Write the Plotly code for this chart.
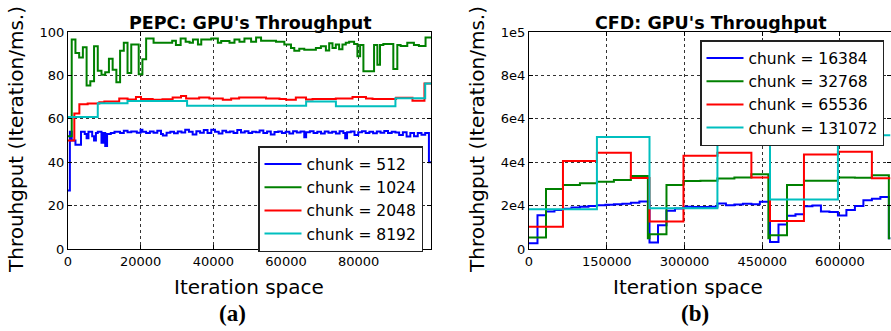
import plotly.graph_objects as go

# ---------------- PEPC (left) data ----------------
pepc_x_512 = [0, 512, 1024, 2048, 3584, 4608, 5120, 5632, 6656, 7168, 7680, 8192, 9216, 9728,
              10240, 10752, 11776, 12800, 14336, 15360, 16384, 17408, 18944, 19968, 20480, 21504,
              22528, 23552, 24576, 25600, 26112, 27136, 28160, 29184, 30208, 31232, 32256, 33280,
              34304, 35328, 36352, 37376, 38400, 39424, 40448, 41472, 42496, 43520, 44544, 45568,
              46592, 47616, 48640, 49664, 50688, 51712, 52736, 53760, 54784, 55808, 56832, 57856,
              58880, 59904, 60928, 61952, 62976, 64000, 65024, 65536, 66560, 67584, 68608, 69632,
              70656, 71680, 72704, 73728, 74752, 75776, 76288, 76800, 77824, 78848, 79872, 80896,
              81920, 82944, 83968, 84992, 86016, 87040, 88064, 89088, 90112, 91136, 92160, 93184,
              94208, 95232, 96256, 97280, 98304, 99328, 99900]
pepc_y_512 = [27, 54, 50, 48, 54, 53, 51, 54, 52, 50, 53.5, 54, 49, 53.5,
              47.5, 53, 53.5, 54, 53.5, 54.5, 53.8, 54.2, 53.6, 55, 54, 53.5,
              54.2, 53.6, 54.5, 53, 52.3, 53.6, 54, 53.3, 54.2, 53.7, 55, 54,
              52.8, 54.3, 53.6, 54.8, 53.5, 55, 54, 53.2, 54.5, 53.8, 54.2, 53.4,
              54.8, 53.7, 54.3, 53.5, 54, 53.8, 54.6, 53.4, 54.1, 52.8, 53.9, 54.2,
              53.5, 54, 53.2, 54.3, 53.7, 54.1, 51.5, 53.8, 54.3, 53.5, 54, 53.2,
              54.2, 53.6, 54, 53.2, 54.3, 53.5, 51, 53.8, 54.2, 52.5, 53.8, 54.3,
              53.5, 54, 53.3, 54.2, 53.6, 54.4, 53.5, 54, 53.7, 52.5, 53.8, 51.8,
              53.5, 52, 53.4, 52.6, 53.5, 40, 40]

pepc_x_1024 = [0, 1024, 2048, 3072, 4096, 5120, 6144, 7168, 8192, 9216, 10240, 11264, 12288,
               13312, 14336, 15360, 16384, 17408, 19456, 20480, 21504, 23552, 24576, 28672,
               29696, 31001, 32373, 33470, 34385, 35757, 36671, 39415, 41244, 42159, 44444,
               45816, 47188, 48560, 50389, 51760, 53132, 54047, 57248, 59534, 61363, 62277,
               63649, 65021, 68220, 69600, 70970, 71880, 72790, 73700, 74620, 75530, 76450,
               77370, 78740, 79650, 80390, 81300, 84230, 85140, 85870, 86780, 89530, 90630,
               91540, 93370, 95200, 96570, 98400, 99900]
pepc_y_1024 = [52, 96.5, 90.3, 88.3, 93, 75.4, 77.3, 93.4, 82.2, 80.3, 81.5, 87.7, 82.6,
               76.9, 91.4, 95, 81.1, 94.2, 80.5, 87.5, 97, 95, 95, 96,
               94, 97, 95.5, 95, 96.5, 94.2, 96.5, 97, 95, 95.8, 95,
               96.5, 95.5, 97, 95.5, 97.5, 96, 96, 95.5, 94.2, 92.6, 91.4,
               92.3, 91.8, 92.6, 93.4, 91.5, 94.8, 92.6, 94.2, 92, 94.2, 95,
               95.5, 94.5, 88.8, 94, 81.9, 94, 84.9, 94, 94.5, 83, 94,
               93.5, 95, 94, 93.5, 97.5, 97.5]

pepc_x_2048 = [0, 1740, 3120, 5410, 8620, 10000, 14100, 16400, 18700, 20100, 23300, 26000,
               28800, 31100, 32500, 36100, 38900, 42600, 44900, 47100, 54500, 58200, 60000,
               62700, 65500, 67300, 73700, 78300, 82000, 83800, 90300, 94800, 98100, 99900]
pepc_y_2048 = [50, 62.5, 66.7, 67.1, 67.6, 68, 69.4, 68.9, 70.1, 69.1, 68.8, 69,
               69.8, 70.5, 69.4, 69.8, 69.4, 68.8, 69.4, 69.8, 69.4, 69.1, 68.8,
               69.8, 68.9, 69.1, 69.4, 70.1, 69.4, 69.1, 69.7, 68.3, 76.3, 76.3]

pepc_x_8192 = [0, 8192, 16384, 32768, 65536, 73728, 90112, 98304, 99900]
pepc_y_8192 = [60.8, 67.2, 68.2, 66, 68, 65.8, 69.5, 76.3, 76.3]

# ---------------- CFD (right) data ----------------
cfd_x_16384 = [0, 16384, 32768, 49152, 65536, 81920, 98304, 114688, 131072, 147456, 163840,
               180224, 196608, 212992, 229376, 232536, 248920, 265304, 281688, 298072, 314456,
               330840, 347224, 363608, 379992, 396376, 412760, 429144, 445528, 461912, 465072,
               481456, 497840, 514224, 530608, 546992, 563376, 579760, 596144, 612528, 628912,
               645296, 661680, 678064, 694448, 697608]
cfd_y_16384 = [2600, 15500, 17300, 18000, 18600, 19100, 19500, 19800, 20200, 20400, 20600,
               20900, 21300, 21900, 21900, 3000, 11000, 17600, 18700, 19500, 19300,
               19400, 19500, 21000, 20200, 20500, 20800, 20600, 21800, 21800, 3200,
               11300, 15300, 16000, 19700, 20000, 17300, 17000, 15400, 18000, 19800,
               22500, 23200, 24000, 5000, 5000]

cfd_x_32768 = [0, 32768, 65536, 98304, 131072, 163840, 196608, 229376, 232536, 265304, 298072,
               330840, 363608, 396376, 429144, 461912, 465072, 497840, 530608, 563376, 596144,
               628912, 661680, 694448, 697608]
cfd_y_32768 = [5300, 27700, 29500, 30300, 31000, 31800, 33600, 4900, 6800, 29500, 31300,
               31500, 32500, 33000, 34500, 5000, 6300, 29500, 31400, 31400, 33000,
               32800, 34000, 5000, 5000]

cfd_x_65536 = [0, 65536, 131072, 196608, 232536, 298072, 363608, 429144, 465072, 530608,
               596144, 661680, 697608]
cfd_y_65536 = [10200, 40500, 44300, 32700, 12700, 43000, 44300, 33000, 12900, 43500,
               44800, 32600, 32600]

cfd_x_131072 = [0, 131072, 232536, 363608, 465072, 596144, 697608]
cfd_y_131072 = [18300, 51600, 18800, 49600, 22800, 52400, 52400]

pepc_labels = ["chunk = 512", "chunk = 1024", "chunk = 2048", "chunk = 8192"]
cfd_labels = ["chunk = 16384", "chunk = 32768", "chunk = 65536", "chunk = 131072"]
colors = ["#0000ff", "#008000", "#ff0000", "#00bfbf"]

pepc_x_ticks = [0, 20000, 40000, 60000, 80000]
pepc_y_ticks = [0, 20, 40, 60, 80, 100]
cfd_x_ticks = [0, 150000, 300000, 450000, 600000]
cfd_y_ticks = [0, 20000, 40000, 60000, 80000, 100000]
cfd_y_ticktext = ["0", "2e4", "4e4", "6e4", "8e4", "1e5"]

W, H = 891, 331
FONT = "DejaVu Sans"

fig = go.Figure()
pepc_series = [(pepc_x_512, pepc_y_512), (pepc_x_1024, pepc_y_1024),
               (pepc_x_2048, pepc_y_2048), (pepc_x_8192, pepc_y_8192)]
cfd_series = [(cfd_x_16384, cfd_y_16384), (cfd_x_32768, cfd_y_32768),
              (cfd_x_65536, cfd_y_65536), (cfd_x_131072, cfd_y_131072)]

for i, (xs, ys) in enumerate(pepc_series):
    fig.add_trace(go.Scatter(x=xs, y=ys, mode="lines", line_shape="hv",
                             line=dict(color=colors[i], width=2), name=pepc_labels[i],
                             xaxis="x", yaxis="y", legend="legend", legendgroup="a%d" % i))
for i, (xs, ys) in enumerate(cfd_series):
    fig.add_trace(go.Scatter(x=xs, y=ys, mode="lines", line_shape="hv",
                             line=dict(color=colors[i], width=2), name=cfd_labels[i],
                             xaxis="x2", yaxis="y2", legend="legend2", legendgroup="b%d" % i))

ydom = [(H - 249) / H, (H - 32) / H]
axis_common = dict(showline=True, linecolor="black", linewidth=1, mirror="ticks",
                   ticks="inside", ticklen=4, tickcolor="black", tickwidth=1,
                   showgrid=True, gridcolor="#333333", griddash="dot", gridwidth=1,
                   zeroline=False, automargin=False,
                   tickfont=dict(family=FONT, size=13, color="black"))

legend_common = dict(xanchor="left", yanchor="top", bgcolor="white",
                     bordercolor="#222222", borderwidth=1.5, itemwidth=37,
                     font=dict(family=FONT, size=15.5, color="black"),
                     traceorder="grouped", tracegroupgap=0)

fig.update_layout(
    width=W, height=H, autosize=False,
    margin=dict(l=0, r=0, t=0, b=0, pad=0, autoexpand=False),
    paper_bgcolor="white", plot_bgcolor="white",
    xaxis=dict(domain=[68 / W, 431 / W], range=[0, 99900], anchor="y",
               tickvals=pepc_x_ticks, ticktext=[str(v) for v in pepc_x_ticks], **axis_common),
    yaxis=dict(domain=ydom, range=[0, 100], anchor="x",
               tickvals=pepc_y_ticks, ticktext=[str(v) for v in pepc_y_ticks], **axis_common),
    xaxis2=dict(domain=[529 / W, 890.5 / W], range=[0, 697608], anchor="y2",
                tickvals=cfd_x_ticks, ticktext=[str(v) for v in cfd_x_ticks], **axis_common),
    yaxis2=dict(domain=ydom, range=[0, 100000], anchor="x2",
                tickvals=cfd_y_ticks, ticktext=cfd_y_ticktext, **axis_common),
    legend=dict(x=258 / W, y=1 - 146 / H, **legend_common),
    legend2=dict(x=700 / W, y=1 - 40 / H, **legend_common),
    showlegend=True,
)

ann = []
ann.append(dict(text="<b>PEPC: GPU's Throughput</b>", x=250 / W, y=1 - 22.5 / H,
                font=dict(family=FONT, size=17.5, color="black")))
ann.append(dict(text="<b>CFD: GPU's Throughput</b>", x=711 / W, y=1 - 22.5 / H,
                font=dict(family=FONT, size=17.5, color="black")))
ann.append(dict(text="Throuhgput (Iteration/ms.)", x=16 / W, y=1 - 140 / H, textangle=-90,
                font=dict(family=FONT, size=20, color="black")))
ann.append(dict(text="Throuhgput (Iteration/ms.)", x=477 / W, y=1 - 140 / H, textangle=-90,
                font=dict(family=FONT, size=20, color="black")))
ann.append(dict(text="Iteration space", x=249 / W, y=1 - 287 / H,
                font=dict(family=FONT, size=20, color="black")))
ann.append(dict(text="Iteration space", x=688 / W, y=1 - 287 / H,
                font=dict(family=FONT, size=20, color="black")))
ann.append(dict(text="<b>(a)</b>", x=232.5 / W, y=1 - 313 / H,
                font=dict(family="Liberation Serif", size=23, color="black")))
ann.append(dict(text="<b>(b)</b>", x=695 / W, y=1 - 313 / H,
                font=dict(family="Liberation Serif", size=23, color="black")))
for a in ann:
    a.update(xref="paper", yref="paper", showarrow=False, xanchor="center", yanchor="middle")
fig.update_layout(annotations=ann)

fig.write_html("out.html", config={"displayModeBar": False},
               post_script="document.body.style.margin='0px';document.body.style.overflow='hidden';")
